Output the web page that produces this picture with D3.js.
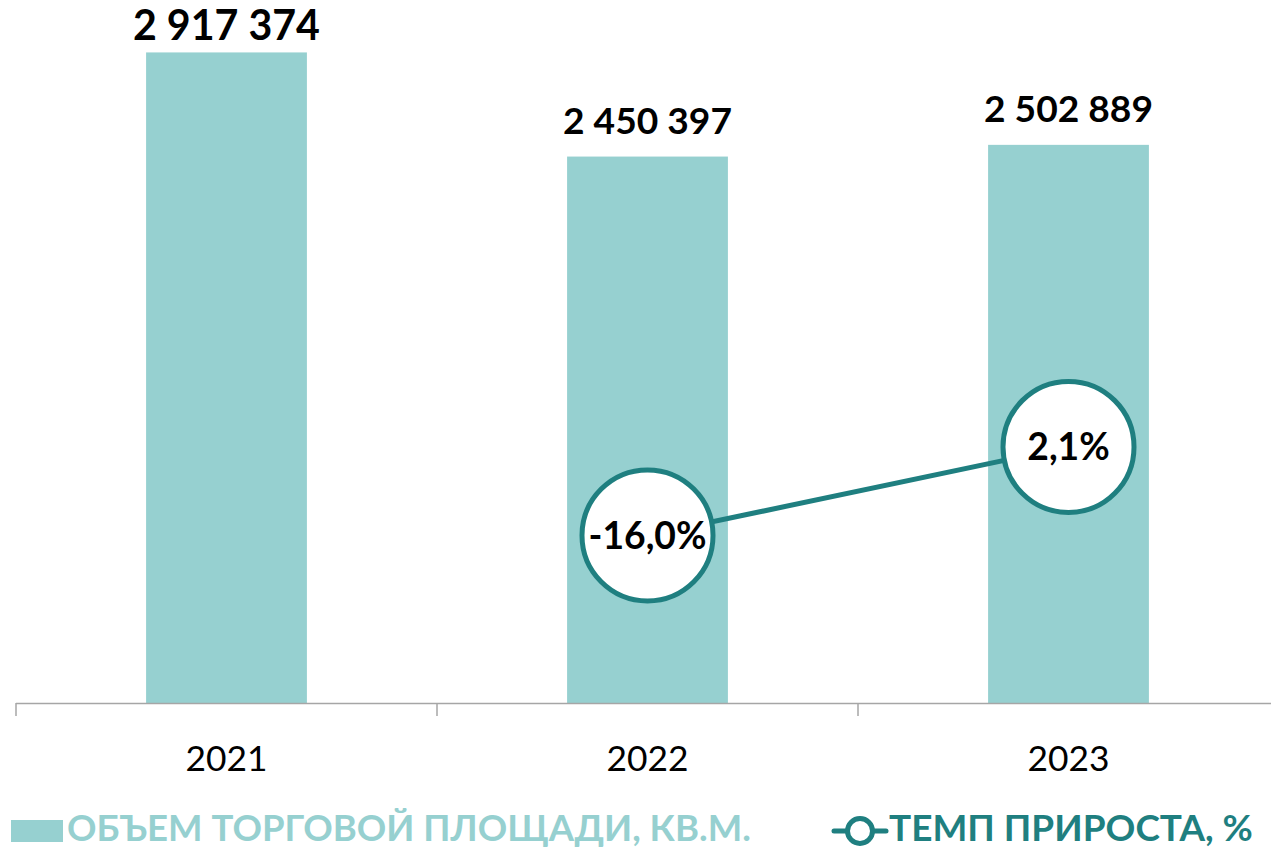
<!DOCTYPE html>
<html><head><meta charset="utf-8">
<script src="https://cdn.jsdelivr.net/npm/d3@7"></script>
<style>
html,body{margin:0;padding:0;background:#fff;}
svg{display:block;}
text{font-family:Lato,"Open Sans","Noto Sans",sans-serif;}
</style></head>
<body>
<svg id="chart" width="1271" height="849"></svg>
<script>
const categories = ["2021", "2022", "2023"];
const areaValues = [2917374, 2450397, 2502889];
const growthValues = [null, -16.0, 2.1];
const seriesNames = ["ОБЪЕМ ТОРГОВОЙ ПЛОЩАДИ, КВ.М.", "ТЕМП ПРИРОСТА, %"];

const barColor = "#96d0d0", lineColor = "#1f7f80";
const locale = d3.formatLocale({decimal: ",", thousands: " ", grouping: [3], currency: ["", ""], minus: "-"});
const fmtInt = locale.format(",d");
const fmtPct = v => locale.format(".1f")(v) + "%";

const svg = d3.select("#chart");
const plotTop = 34, plotBottom = 703, plotLeft = 16, plotRight = 1279;

const x = d3.scaleBand().domain(categories).range([plotLeft, plotRight]).paddingInner(0.618).paddingOuter(0.309);
const y = d3.scaleLinear().domain([0, 3000000]).range([plotBottom, plotTop]);
const y2 = d3.scaleLinear().domain([-50.3, 86.6]).range([plotBottom, plotTop]);

function fit(refText, target, weight, base) {
  const t = svg.append("text").attr("font-size", base).attr("font-weight", weight).text(refText);
  const w = t.node().getComputedTextLength();
  t.remove();
  return base * target / w;
}

// bars
svg.append("g").selectAll("rect").data(categories).join("rect")
  .attr("x", d => x(d)).attr("width", x.bandwidth())
  .attr("y", (d, i) => y(areaValues[i])).attr("height", (d, i) => plotBottom - y(areaValues[i]))
  .attr("fill", barColor);

// x axis
const step = x.step();
const axisG = svg.append("g");
axisG.append("line").attr("x1", plotLeft).attr("x2", plotRight).attr("y1", plotBottom + 0.5).attr("y2", plotBottom + 0.5)
  .attr("stroke", "#a6a6a6").attr("stroke-width", 1.5);
const bounds = d3.range(categories.length + 1).map(i => x(categories[0]) - x.paddingOuter() * step + i * step);
axisG.selectAll("line.tick").data(bounds).join("line").attr("class", "tick")
  .attr("x1", d => d).attr("x2", d => d).attr("y1", plotBottom).attr("y2", plotBottom + 13)
  .attr("stroke", "#a6a6a6").attr("stroke-width", 1.5);
const catSize = fit("2021", 82, 400, 40);
axisG.selectAll("text").data(categories).join("text")
  .attr("x", d => x(d) + x.bandwidth() / 2).attr("y", 771)
  .attr("text-anchor", "middle").attr("font-size", catSize).attr("fill", "#000").text(d => d);

// value labels
const valSize = fit("2 450 397", 169, 700, 42);
const valSizeBig = fit("2 917 374", 187, 700, 42);
svg.append("g").selectAll("text").data(categories).join("text")
  .attr("x", d => x(d) + x.bandwidth() / 2)
  .attr("y", (d, i) => Math.max(y(areaValues[i]) - 23, 40))
  .attr("text-anchor", "middle").attr("font-weight", 700)
  .attr("font-size", (d, i) => i === 0 ? valSizeBig : valSize)
  .attr("fill", "#000").text((d, i) => fmtInt(areaValues[i]));

// growth line
const pts = categories.map((c, i) => ({c, v: growthValues[i]})).filter(p => p.v !== null);
const line = d3.line().x(p => x(p.c) + x.bandwidth() / 2).y(p => y2(p.v));
svg.append("path").datum(pts).attr("d", line).attr("fill", "none").attr("stroke", lineColor).attr("stroke-width", 5);
const pg = svg.append("g").selectAll("g").data(pts).join("g")
  .attr("transform", p => `translate(${x(p.c) + x.bandwidth() / 2},${y2(p.v)})`);
pg.append("circle").attr("r", 65.5).attr("fill", "#fff").attr("stroke", lineColor).attr("stroke-width", 5);
const pctSize = fit("-16,0%", 118, 700, 42);
pg.append("text").attr("text-anchor", "middle").attr("dy", "0.36em")
  .attr("font-weight", 700).attr("font-size", pctSize).attr("fill", "#000").text(p => fmtPct(p.v));

// legend
const lg = svg.append("g");
const legBase = 841;
lg.append("rect").attr("x", 11).attr("y", legBase - 21).attr("width", 52).attr("height", 22).attr("fill", barColor);
const l1Size = fit(seriesNames[0], 684, 700, 36);
lg.append("text").attr("x", 67).attr("y", legBase).attr("font-weight", 700).attr("font-size", l1Size)
  .attr("fill", barColor).text(seriesNames[0]);
lg.append("line").attr("x1", 834).attr("x2", 886).attr("y1", legBase - 10).attr("y2", legBase - 10)
  .attr("stroke", lineColor).attr("stroke-width", 5).attr("stroke-linecap", "round");
lg.append("circle").attr("cx", 860).attr("cy", legBase - 10).attr("r", 12.5).attr("fill", "#fff")
  .attr("stroke", lineColor).attr("stroke-width", 5);
const l2Size = fit(seriesNames[1], 364, 700, 36);
lg.append("text").attr("x", 889).attr("y", legBase).attr("font-weight", 700).attr("font-size", l2Size)
  .attr("fill", lineColor).text(seriesNames[1]);
</script>
</body></html>
